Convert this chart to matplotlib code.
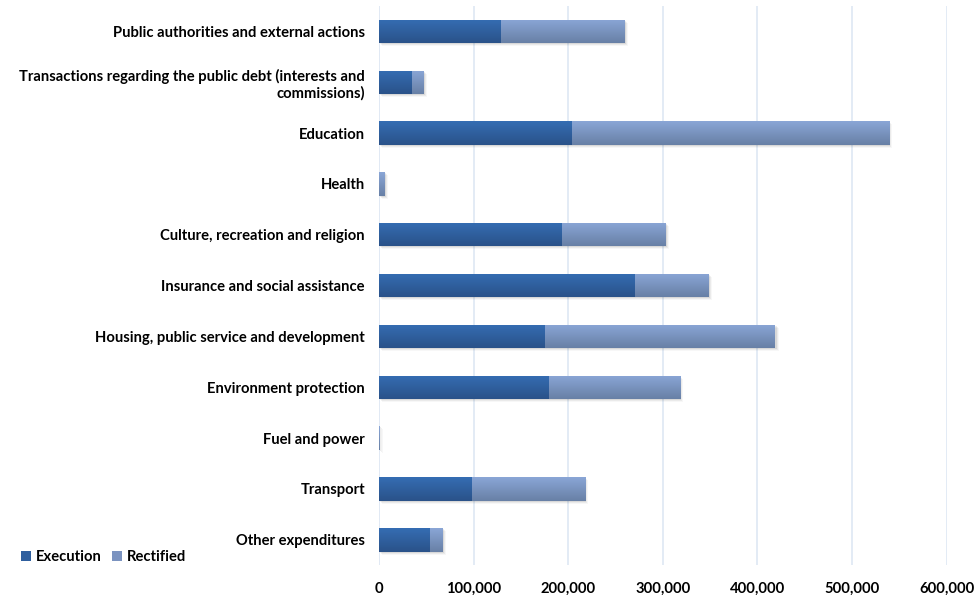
import matplotlib
matplotlib.use("Agg")
import matplotlib.pyplot as plt
import numpy as np
from matplotlib.patches import Patch
from matplotlib.colors import LinearSegmentedColormap
from matplotlib.ticker import FuncFormatter

categories = [
    "Public authorities and external actions",
    "Transactions regarding the public debt (interests and\ncommissions)",
    "Education",
    "Health",
    "Culture, recreation and religion",
    "Insurance and social assistance",
    "Housing, public service and development",
    "Environment protection",
    "Fuel and power",
    "Transport",
    "Other expenditures",
]
execution = [129000, 35000, 204000, 300, 194000, 271000, 176000, 179500, 400, 98000, 54000]
rectified = [131000, 12500, 335000, 5700, 109000, 77500, 243000, 138500, 600, 119500, 13500]
series_names = ["Execution", "Rectified"]
x_ticks = [0, 100000, 200000, 300000, 400000, 500000, 600000]

plt.rcParams["font.family"] = ["Lato", "DejaVu Sans"]
plt.rcParams["font.weight"] = "bold"

fig = plt.figure(figsize=(9.74, 5.95), dpi=100)
ax = fig.add_axes([0.389, 0.05, 0.583, 0.94])

dark_cmap = LinearSegmentedColormap.from_list("dark", ["#2a5289", "#356db3"])
light_cmap = LinearSegmentedColormap.from_list("light", ["#6880a6", "#8aa6d6"])

y = np.arange(len(categories))
h = 0.46
grad = np.linspace(0, 1, 64).reshape(-1, 1)


def gradient_bars(lefts, widths, cmap):
    bars = ax.barh(y, widths, left=lefts, height=h, color="none", zorder=3)
    for bar in bars:
        x0, y0 = bar.get_x(), bar.get_y()
        w, hh = bar.get_width(), bar.get_height()
        if w <= 0:
            continue
        # soft drop shadow, layered for a blurred edge
        for k, a in enumerate([0.07, 0.05, 0.03]):
            d = 1200 * (k + 1)
            ax.add_patch(plt.Rectangle((x0 + d, y0 + 0.02 * (k + 1)), w, hh,
                                       color="#000000", alpha=a, lw=0, zorder=2))
        # vertical gradient: light on top, dark at bottom (y axis inverted)
        im = ax.imshow(grad, cmap=cmap, aspect="auto",
                       extent=(x0, x0 + w, y0 + hh, y0), origin="upper",
                       zorder=3.5)
        im.set_clip_path(bar)
    return bars


gradient_bars([0] * len(y), execution, dark_cmap.reversed())
gradient_bars(execution, rectified, light_cmap.reversed())

ax.set_xlim(0, 600000)
ax.set_ylim(len(categories) - 0.5, -0.5)
ax.set_xticks(x_ticks)
ax.xaxis.set_major_formatter(FuncFormatter(lambda v, p: f"{int(v):,}"))
ax.set_yticks(y)
ax.set_yticklabels(categories, fontsize=10.6, fontweight="bold", ha="right")
ax.tick_params(axis="y", length=0, pad=10)
ax.tick_params(axis="x", length=0, pad=12, labelsize=10.6)
for lbl in ax.get_xticklabels():
    lbl.set_fontweight("bold")

ax.grid(axis="x", color="#e1e9f4", lw=1.3, zorder=0)
ax.set_axisbelow(True)
for s in ax.spines.values():
    s.set_visible(False)
ax.axvline(0, color="#e1e9f4", lw=1.3, zorder=1)

handles = [Patch(facecolor="#2f5f9e", edgecolor="none"),
           Patch(facecolor="#7b93c0", edgecolor="none")]
fig.legend(handles, series_names, loc="lower left", bbox_to_anchor=(0.008, 0.03),
           ncol=2, frameon=False, handlelength=0.7, handleheight=0.7,
           handletextpad=0.3, columnspacing=0.7,
           prop={"weight": "bold", "size": 10.6})

fig.savefig("out.png", dpi=100)
